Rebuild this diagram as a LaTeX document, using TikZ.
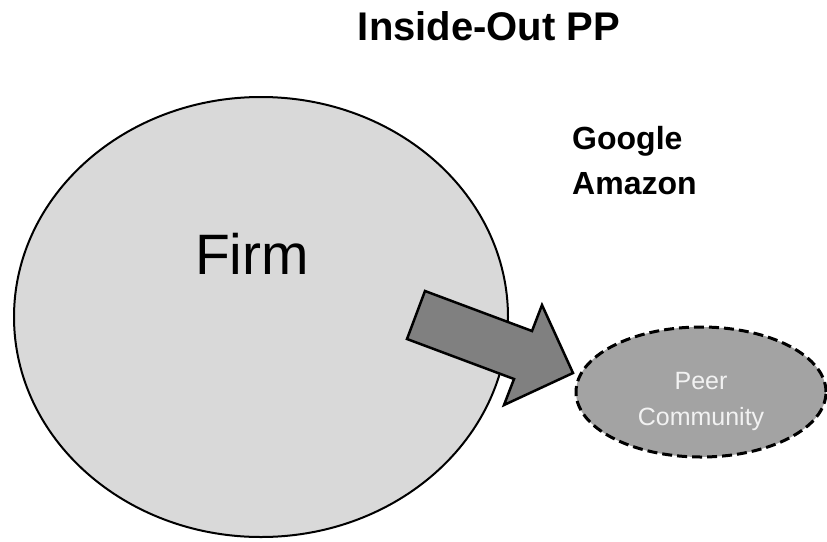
\documentclass[tikz,border=0pt]{standalone}
\usepackage{fontspec}
\setmainfont{Liberation Sans}
\usepackage{tikz}
\usetikzlibrary{arrows.meta,positioning,shapes.geometric}

\definecolor{firmgray}{HTML}{D9D9D9}
\definecolor{arrowgray}{HTML}{808080}
\definecolor{peergray}{HTML}{A3A3A3}
\definecolor{peertext}{HTML}{F2F2F2}

\begin{document}
\begin{tikzpicture}[
  x=1pt, y=-1pt,
  firmcirc/.style={draw,ellipse,fill=firmgray,line width=2pt,minimum width=494pt,minimum height=440pt,inner sep=0pt},
  peerell/.style={draw,ellipse,dashed,dash pattern=on 10pt off 5pt,fill=peergray,line width=3pt,minimum width=250pt,minimum height=130pt},
  peerlbl/.style={align=center,text=peertext,font=\fontsize{25}{36}\selectfont,yshift=-9pt},
  blockarr/.style={draw,fill=arrowgray,line width=2.5pt,line join=miter}
]
  \useasboundingbox (0,0) rectangle (827,541);

  \node[font=\fontsize{40}{48}\selectfont\bfseries] (title) at (489,26) {Inside-Out PP};
  \node[firmcirc] (firm) at (261,317) {};
  \node[font=\fontsize{57}{68}\selectfont] (firmlbl) at (252,254) {Firm};
  \node[align=left,anchor=west,inner sep=0pt,font=\fontsize{32}{45}\selectfont\bfseries] (examples) at (572,161) {Google\\Amazon};
  \node[peerell,label={[peerlbl]center:Peer\\Community}] (peer) at (701,392) {};

  % block arrow from the firm out to the community
  \draw[blockarr] (425,291) -- (532,331) -- (542,305) -- (573,373)
    -- (504,405) -- (514,379) -- (407,339) -- cycle;
\end{tikzpicture}
\end{document}
